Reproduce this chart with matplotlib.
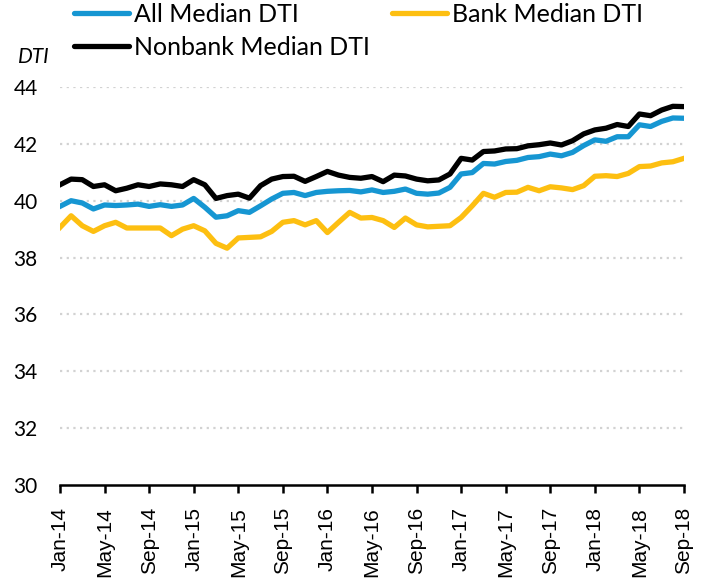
import numpy as np
import pandas as pd
import matplotlib
matplotlib.use("Agg")
import matplotlib.pyplot as plt

# === Data (monthly, Jan-14 .. Sep-18) ===
months = pd.date_range("2014-01-01", "2018-09-01", freq="MS")

all_dti = [39.80, 40.00, 39.92, 39.71, 39.85, 39.83, 39.85, 39.88, 39.80, 39.86,
           39.80, 39.85, 40.08, 39.77, 39.42, 39.47, 39.65, 39.59, 39.82, 40.06,
           40.26, 40.29, 40.18, 40.29, 40.33, 40.35, 40.36, 40.31, 40.38, 40.29,
           40.33, 40.41, 40.26, 40.23, 40.27, 40.47, 40.94, 40.99, 41.31, 41.29,
           41.38, 41.42, 41.52, 41.55, 41.64, 41.58, 41.70, 41.94, 42.14, 42.09,
           42.25, 42.25, 42.67, 42.61, 42.79, 42.91, 42.90]

bank_dti = [39.06, 39.47, 39.12, 38.92, 39.12, 39.24, 39.04, 39.04, 39.04, 39.04,
            38.77, 39.00, 39.12, 38.94, 38.50, 38.33, 38.69, 38.71, 38.73, 38.92,
            39.24, 39.30, 39.15, 39.30, 38.88, 39.24, 39.59, 39.39, 39.41, 39.30,
            39.06, 39.39, 39.15, 39.08, 39.10, 39.12, 39.41, 39.82, 40.26, 40.12,
            40.29, 40.30, 40.47, 40.35, 40.49, 40.45, 40.39, 40.53, 40.86, 40.88,
            40.85, 40.96, 41.20, 41.22, 41.33, 41.37, 41.49]

nonbank_dti = [40.56, 40.76, 40.74, 40.50, 40.56, 40.35, 40.44, 40.56, 40.50, 40.59,
               40.56, 40.50, 40.74, 40.56, 40.08, 40.18, 40.23, 40.09, 40.53, 40.76,
               40.85, 40.86, 40.68, 40.85, 41.03, 40.90, 40.82, 40.79, 40.85, 40.67,
               40.90, 40.87, 40.76, 40.70, 40.73, 40.94, 41.49, 41.43, 41.73, 41.75,
               41.82, 41.83, 41.93, 41.97, 42.03, 41.96, 42.11, 42.35, 42.49, 42.55,
               42.68, 42.61, 43.05, 42.99, 43.19, 43.32, 43.31]

tick_labels = [d.strftime("%b-%y") for d in months[::4]]
y_ticks = [30, 32, 34, 36, 38, 40, 42, 44]

# === Plot ===
plt.rcParams["font.family"] = ["Lato", "DejaVu Sans"]

fig = plt.figure(figsize=(7.08, 5.78), dpi=100)
ax = fig.add_axes([0.0847, 0.1609, 0.8814, 0.6886])

x = np.arange(len(months))
l_all, = ax.plot(x, all_dti, color="#1696d2", lw=3.8, label="All Median DTI",
                 solid_joinstyle="round", zorder=3)
l_bank, = ax.plot(x, bank_dti, color="#fdbf11", lw=3.8, label="Bank Median DTI",
                  solid_joinstyle="round", zorder=3)
l_non, = ax.plot(x, nonbank_dti, color="#000000", lw=3.8, label="Nonbank Median DTI",
                 solid_joinstyle="round", zorder=4)

ax.set_xlim(0, len(months) - 1)
ax.set_ylim(30, 44)
ax.set_yticks(y_ticks)
ax.set_yticklabels([str(v) for v in y_ticks], fontsize=15)
ax.set_xticks(x[::4])
ax.set_xticklabels(tick_labels, rotation=90, fontsize=15,
                   family="Liberation Sans")

for v in y_ticks[1:]:
    ax.axhline(v, color="#d2d2d2", lw=1.6, ls=(0, (1, 2)), zorder=1)

for s in ["top", "right", "left"]:
    ax.spines[s].set_visible(False)
ax.spines["bottom"].set_linewidth(1.8)
ax.tick_params(axis="y", length=0, pad=16)
ax.tick_params(axis="x", length=6, width=1.8, direction="out", pad=10)

fig.text(0.048, 0.902, "DTI", fontsize=15, style="italic", ha="center", va="center")

# legend filled column-wise, so order handles to get All/Bank on the first row
leg = fig.legend([l_all, l_non, l_bank],
                 ["All Median DTI", "Nonbank Median DTI", "Bank Median DTI"],
                 loc="upper left", bbox_to_anchor=(0.104, 0.995), ncol=2,
                 frameon=False, fontsize=18, handlelength=2.2, handletextpad=0.2,
                 columnspacing=0.9, labelspacing=0.4, borderpad=0, borderaxespad=0)
for h in leg.legend_handles:
    h.set_solid_capstyle("round")

fig.savefig("out.png", dpi=100)
